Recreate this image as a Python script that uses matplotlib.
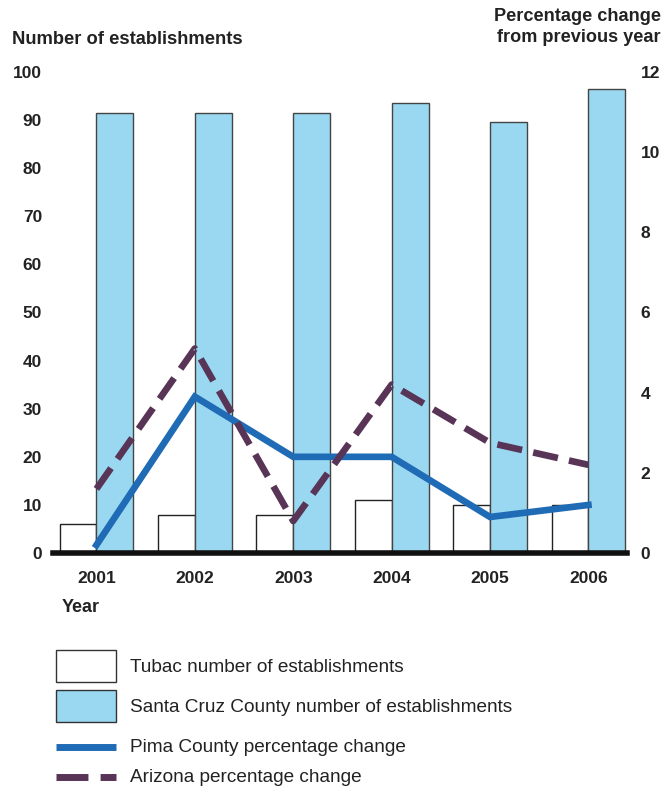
import numpy as np
import matplotlib.pyplot as plt
from matplotlib.patches import Rectangle
from matplotlib.lines import Line2D

years = ["2001", "2002", "2003", "2004", "2005", "2006"]
tubac = [6, 8, 8, 11, 10, 10]
santa_cruz = [91.5, 91.5, 91.5, 93.5, 89.5, 96.5]
pima_pct = [0.2, 3.9, 2.4, 2.4, 0.9, 1.2]
arizona_pct = [1.6, 5.1, 0.8, 4.2, 2.75, 2.2]

plt.rcParams['font.family'] = ['Liberation Sans', 'DejaVu Sans']

light_blue = "#99d8f0"
pima_blue = "#1f6bb5"
az_purple = "#583456"
txt = '#222222'

fig = plt.figure(figsize=(6.64, 7.89), dpi=100)
ax = fig.add_axes([0.080, 0.299, 0.864, 0.610])
x = np.arange(len(years))
w = 0.375

ax.bar(x, tubac, width=-w, align='edge', color='white', edgecolor='#222222', linewidth=1, zorder=2)
ax.bar(x, santa_cruz, width=w, align='edge', color=light_blue, edgecolor='#444444', linewidth=1,
       zorder=2, clip_on=False)

ax.set_xlim(-0.44, 5.39)
ax.set_ylim(0, 100)
ax.set_yticks(range(0, 101, 10))
ax.set_xticks(x)
ax.set_xticklabels(years)
ax.tick_params(length=0, labelsize=12.5, pad=13)
ax.tick_params(axis='y', pad=8)
for lbl in ax.get_xticklabels() + ax.get_yticklabels():
    lbl.set_fontweight('bold')
    lbl.set_color(txt)
for s in ['top', 'left', 'right']:
    ax.spines[s].set_visible(False)
ax.spines['bottom'].set_linewidth(4)
ax.spines['bottom'].set_color('#111111')
ax.spines['bottom'].set_zorder(5)

ax2 = ax.twinx()
ax2.plot(x, pima_pct, color=pima_blue, linewidth=4.8, solid_joinstyle='miter', zorder=3)
ax2.plot(x, arizona_pct, color=az_purple, linewidth=4.8, dashes=(3.8, 1.7), zorder=3)
ax2.set_ylim(0, 12)
ax2.set_yticks(range(0, 13, 2))
ax2.tick_params(length=0, labelsize=12.5, pad=10)
for lbl in ax2.get_yticklabels():
    lbl.set_fontweight('bold')
    lbl.set_color(txt)
for s in ax2.spines.values():
    s.set_visible(False)

fig.text(12 / 664, 1 - 40 / 789, "Number of establishments", fontsize=13.2, fontweight='bold',
         color=txt, ha='left', va='center')
fig.text(661 / 664, 1 - 27 / 789, "Percentage change\nfrom previous year", fontsize=13.1,
         fontweight='bold', color=txt, ha='right', va='center', linespacing=1.35)
fig.text(62 / 664, 1 - 608 / 789, "Year", fontsize=13, fontweight='bold', color=txt,
         ha='left', va='center')

# legend drawn by hand
def fx(px):
    return px / 664

def fy(py):
    return 1 - py / 789

fig.patches.append(Rectangle((fx(56), fy(682)), fx(116) - fx(56), fy(650) - fy(682),
                             transform=fig.transFigure, facecolor='white', edgecolor='#333333', lw=1))
fig.patches.append(Rectangle((fx(56), fy(722)), fx(116) - fx(56), fy(690) - fy(722),
                             transform=fig.transFigure, facecolor=light_blue, edgecolor='#333333', lw=1))
fig.lines.append(Line2D([fx(56), fx(116)], [fy(747), fy(747)], transform=fig.transFigure,
                        color=pima_blue, lw=5, solid_capstyle='butt'))
fig.lines.append(Line2D([fx(56), fx(116)], [fy(777), fy(777)], transform=fig.transFigure,
                        color=az_purple, lw=5, dashes=(4.6, 1.75), dash_capstyle='butt'))
labels = ["Tubac number of establishments", "Santa Cruz County number of establishments",
          "Pima County percentage change", "Arizona percentage change"]
for lab, py in zip(labels, [667, 708, 748, 777]):
    fig.text(fx(130), fy(py), lab, fontsize=13.7, color=txt, ha='left', va='center')

fig.savefig("out.png", dpi=100)
